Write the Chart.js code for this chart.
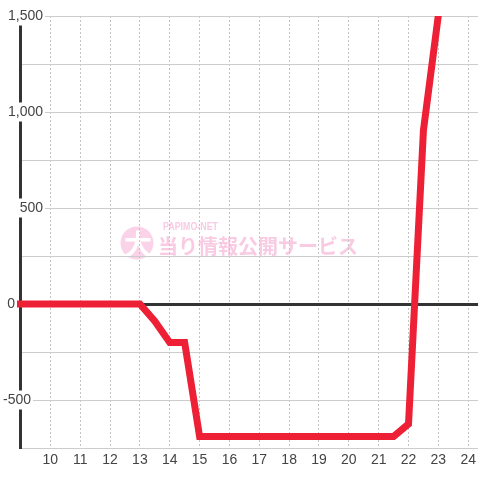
<!DOCTYPE html>
<html>
<head>
<meta charset="utf-8">
<script src="https://cdn.jsdelivr.net/npm/chart.js@4.4.0/dist/chart.umd.min.js"></script>
<style>
  html, body { margin: 0; padding: 0; background: #fff; }
  #wrap { width: 480px; height: 480px; }
</style>
</head>
<body>
<div id="wrap"><canvas id="balanceChart"></canvas></div>
<script>
// hour of day (half-hour steps)
const hours = [9, 9.5, 10, 10.5, 11, 11.5, 12, 12.5, 13, 13.5, 14, 14.5, 15,
  15.5, 16, 16.5, 17, 17.5, 18, 18.5, 19, 19.5, 20, 20.5, 21, 21.5, 22, 22.5, 23];
// balance at each hour
const balance = [0, 0, 0, 0, 0, 0, 0, 0, 0, -90, -200, -200, -690,
  -690, -690, -690, -690, -690, -690, -690, -690, -690, -690, -690, -690, -690, -625, 905, 1505];
// labelled y values
const yLabels = [1500, 1000, 500, 0, -500];

const xMin = 9, xMax = 24.33;
const yMin = -750, yMax = 1500, yStep = 250;

// right edge (px) of each y label, same order as yLabels
const yLabelRight = [43, 43, 43, 15, 31];

const lineColor = '#ee2036';
const gridColor = '#cccccc';
const textColor = '#444444';
const labelFont = '14px "Liberation Sans", Arial, sans-serif';

// pale pink watermark behind the grid
const watermark = {
  id: 'watermark',
  beforeDraw(chart) {
    const ctx = chart.ctx;
    ctx.save();
    ctx.fillStyle = '#fbd3e8';
    ctx.beginPath();
    ctx.arc(137, 243, 16.5, 0, Math.PI * 2);
    ctx.fill();
    ctx.fillStyle = '#ffffff';
    ctx.font = 'bold 28px "Noto Sans CJK JP"';
    ctx.textAlign = 'center';
    ctx.textBaseline = 'middle';
    ctx.fillText('大', 138, 244);
    ctx.fillStyle = '#f9cbe3';
    ctx.textAlign = 'left';
    ctx.font = 'bold 11px "Liberation Sans"';
    ctx.fillText('PAPIMO-NET', 163, 227, 55);
    ctx.font = 'bold 20px "Noto Sans CJK JP"';
    ctx.fillText('当り情報公開サービス', 158, 246, 200);
    ctx.restore();
  }
};

// y labels sit on a white box across the axis line, drawn before the data line
const yLabelsPlugin = {
  id: 'yLabels',
  beforeDatasetsDraw(chart) {
    const ctx = chart.ctx;
    const scale = chart.scales.y;
    ctx.save();
    ctx.font = labelFont;
    ctx.textAlign = 'right';
    ctx.textBaseline = 'middle';
    yLabels.forEach((v, i) => {
      const text = v.toLocaleString('en-US');
      const y = scale.getPixelForValue(v);
      const right = yLabelRight[i];
      const w = ctx.measureText(text).width;
      ctx.fillStyle = '#ffffff';
      ctx.fillRect(right - w - 2, y - 9.5, w + 4, 19);
      ctx.fillStyle = textColor;
      ctx.fillText(text, right, y);
    });
    ctx.restore();
  }
};

const points = hours.map((h, i) => ({ x: h, y: balance[i] }));

new Chart(document.getElementById('balanceChart'), {
  type: 'line',
  data: {
    datasets: [{
      data: points,
      borderColor: lineColor,
      backgroundColor: lineColor,
      borderWidth: 7,
      borderCapStyle: 'square',
      pointRadius: 0,
      tension: 0,
      fill: false,
      clip: { left: 5, top: 0, right: 0, bottom: 5 }
    }]
  },
  options: {
    responsive: true,
    maintainAspectRatio: false,
    animation: false,
    devicePixelRatio: 1,
    layout: { padding: { top: 16, left: 0, right: 0, bottom: 0 } },
    plugins: {
      legend: { display: false },
      tooltip: { enabled: false }
    },
    scales: {
      x: {
        type: 'linear',
        min: xMin,
        max: xMax,
        ticks: {
          stepSize: 1,
          includeBounds: false,
          color: textColor,
          font: { family: '"Liberation Sans", Arial, sans-serif', size: 14 },
          padding: 4,
          maxRotation: 0,
          callback: v => (v === xMin ? '' : String(v))
        },
        grid: { color: '#c4c4c4', lineWidth: 1, drawTicks: false },
        border: { display: false, dash: [2, 2] },
        afterFit: s => { s.height = 32; }
      },
      y: {
        min: yMin,
        max: yMax,
        ticks: { stepSize: yStep, display: false },
        grid: {
          color: ctx => (ctx.tick && ctx.tick.value === 0 ? '#333333' : gridColor),
          lineWidth: ctx => (ctx.tick && ctx.tick.value === 0 ? 3 : 1),
          drawTicks: false
        },
        border: { display: true, color: '#333333', width: 3 },
        afterFit: s => { s.width = 20.5; }
      }
    }
  },
  plugins: [watermark, yLabelsPlugin]
});
</script>
</body>
</html>
